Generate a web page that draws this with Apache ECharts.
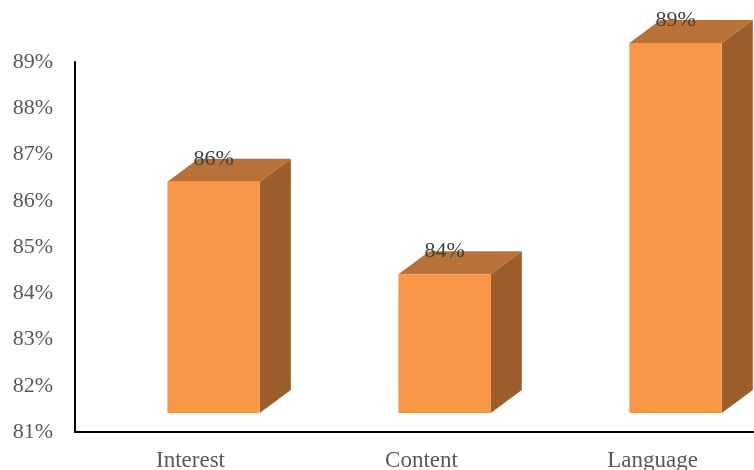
<!DOCTYPE html>
<html>
<head>
<meta charset="utf-8">
<script src="https://cdn.jsdelivr.net/npm/echarts@6/dist/echarts.min.js"></script>
<style>html,body{margin:0;padding:0;background:#fff;}#c{width:754px;height:470px;}</style>
</head>
<body>
<div id="c"></div>
<script>
var categories = ['Interest', 'Content', 'Language'];
var values = [86, 84, 89];
var yTicks = {min: 81, max: 89, interval: 1};

var chart = echarts.init(document.getElementById('c'));
var FONT = '"Liberation Serif", "Times New Roman", serif';
var LIFT = 19, DX = 31, DY = 23;

chart.setOption({
  animation: false,
  grid: {left: 75, top: 62, width: 693, height: 370, outerBoundsMode: 'none', containLabel: false},
  xAxis: {
    type: 'category',
    data: categories,
    axisLine: {lineStyle: {color: '#000', width: 2}},
    axisTick: {show: false},
    axisLabel: {fontFamily: FONT, fontSize: 23, color: '#595959', margin: 17}
  },
  yAxis: {
    type: 'value',
    min: yTicks.min, max: yTicks.max, interval: yTicks.interval,
    axisLine: {show: true, lineStyle: {color: '#000', width: 2}},
    axisTick: {show: false},
    splitLine: {show: false},
    axisLabel: {fontFamily: FONT, fontSize: 22, color: '#595959', margin: 22,
      formatter: function (v) { return v + '%'; }}
  },
  series: [{
    type: 'custom',
    data: values.map(function (v, i) { return [i, v]; }),
    renderItem: function (params, api) {
      var idx = api.value(0), val = api.value(1);
      var top = api.coord([idx, val]);
      var base = api.coord([idx, yTicks.min]);
      var bw = api.size([1, 0])[0];
      var w = bw * 0.4;
      var x0 = top[0] - bw * 0.1;
      var x1 = x0 + w;
      var yT = top[1] - LIFT;
      var yB = base[1] - LIFT;
      return {
        type: 'group',
        children: [
          {type: 'polygon', shape: {points: [[x1, yT], [x1 + DX, yT - DY], [x1 + DX, yB - DY], [x1, yB]]},
           style: {fill: '#9B5E2B'}},
          {type: 'polygon', shape: {points: [[x0, yT], [x0 + DX, yT - DY], [x1 + DX, yT - DY], [x1, yT]]},
           style: {fill: '#B87237'}},
          {type: 'rect', shape: {x: x0, y: yT, width: w, height: yB - yT},
           style: {fill: '#F79646'}},
          {type: 'text', x: x0 + w / 2, y: yT - DY,
           style: {text: Math.round(val) + '%', fill: '#404040', font: '22px ' + FONT,
                   align: 'center', verticalAlign: 'middle'}}
        ]
      };
    }
  }]
});
</script>
</body>
</html>
